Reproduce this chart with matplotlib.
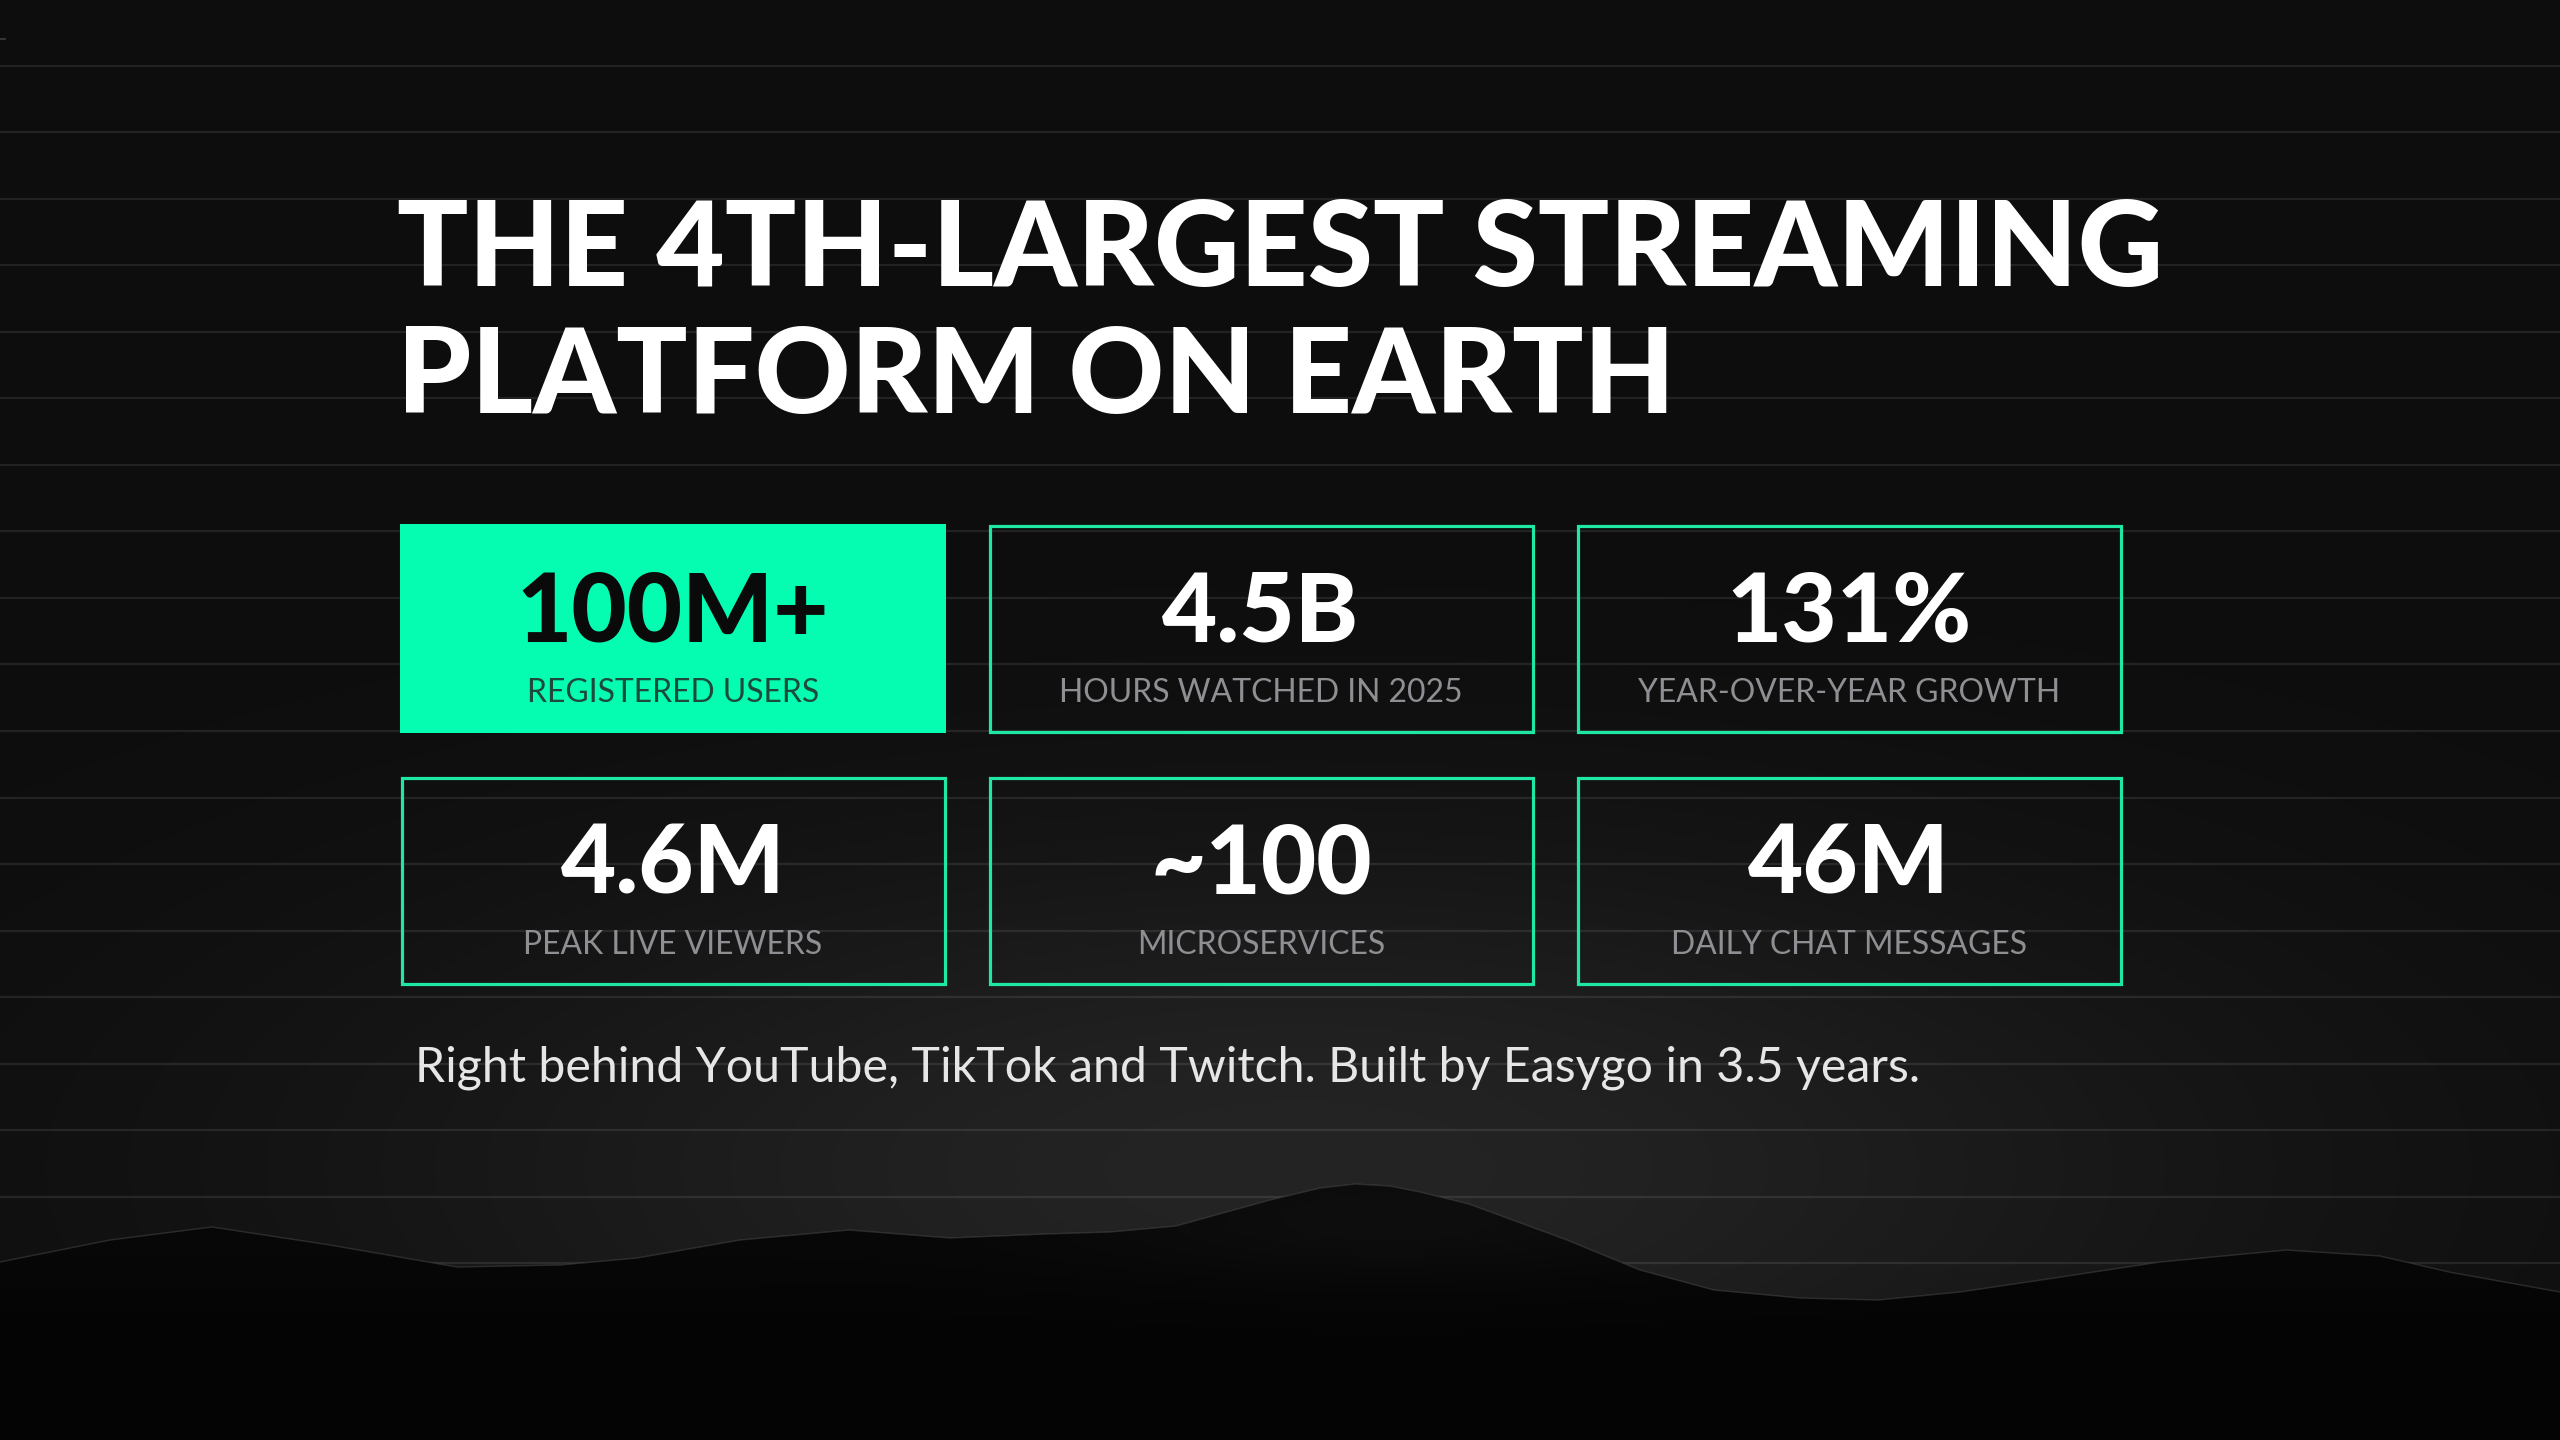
import numpy as np
import matplotlib
matplotlib.use("Agg")
import matplotlib.pyplot as plt
from matplotlib.patches import Rectangle, Polygon

W, H = 2560, 1440

title_lines = ["THE 4TH-LARGEST STREAMING", "PLATFORM ON EARTH"]
stat_values = ["100M+", "4.5B", "131%", "4.6M", "~100", "46M"]
stat_labels = ["REGISTERED USERS", "HOURS WATCHED IN 2025", "YEAR-OVER-YEAR GROWTH",
               "PEAK LIVE VIEWERS", "MICROSERVICES", "DAILY CHAT MESSAGES"]
highlighted = [True, False, False, False, False, False]
footnote = "Right behind YouTube, TikTok and Twitch. Built by Easygo in 3.5 years."

# outline of the dark hills along the bottom (x px, y px from the top)
ridge_x = [0, 110, 212, 330, 457, 560, 637, 740, 849, 950, 1045, 1110, 1176, 1270,
           1320, 1355, 1390, 1420, 1469, 1567, 1640, 1714, 1800, 1878, 1960, 2041,
           2160, 2286, 2380, 2449, 2560]
ridge_y = [1262, 1240, 1227, 1245, 1267, 1265, 1258, 1240, 1230, 1238, 1234, 1232,
           1226, 1200, 1188, 1184, 1186, 1192, 1204, 1240, 1270, 1290, 1298, 1300,
           1292, 1280, 1262, 1250, 1256, 1272, 1292]

GREEN = "#05FDB2"
EDGE = "#1FE8A6"
BG = "#0d0d0d"

fig = plt.figure(figsize=(W / 100, H / 100), dpi=100)
ax = fig.add_axes([0, 0, 1, 1])
ax.set_xlim(0, W)
ax.set_ylim(H, 0)
ax.axis("off")
fig.patch.set_facecolor(BG)
renderer = fig.canvas.get_renderer()

# background glow behind the hills
gx, gy = np.meshgrid(np.linspace(0, W, 640), np.linspace(0, H, 360))
glow = 0.051 + 0.09 * np.exp(-((gx - 1300) / 950) ** 2 - ((gy - 1170) / 330) ** 2)
glow = np.clip(glow, 0, 1)
ax.imshow(np.dstack([glow, glow, glow]), extent=[0, W, H, 0], zorder=0,
          interpolation="bilinear", aspect="auto")

# faint horizontal rules
for y in np.arange(65.5, H, 66.55):
    ax.axhline(y, color="white", alpha=0.09, lw=1.6, zorder=1)
ax.plot([0, 5], [39, 39], color="white", alpha=0.2, lw=1.2, zorder=1)

# hills: dark body, a little light caught on the big peak
hill = Polygon(np.column_stack([ridge_x + [W, 0], ridge_y + [H, H]]),
               closed=True, facecolor="#060606", edgecolor="none", zorder=2)
ax.add_patch(hill)
shade = 0.018 + 0.03 * np.exp(-((gy - 1205) / 70) ** 2 - ((gx - 1390) / 300) ** 2) \
    + 0.01 * np.exp(-((gy - 1245) / 50) ** 2)
shade = np.clip(shade, 0, 1)
im = ax.imshow(np.dstack([shade, shade, shade]), extent=[0, W, H, 0], zorder=2.5,
               interpolation="bilinear", aspect="auto")
im.set_clip_path(hill)
ax.plot(ridge_x, ridge_y, color="#555555", lw=1.0, alpha=0.45, zorder=3)


def fitted_size(text, width, **kw):
    t = ax.text(0, 0, text, fontsize=100, **kw)
    bb = t.get_window_extent(renderer=renderer)
    t.remove()
    return 100 * width / bb.width


title_font = dict(family=["Lato", "DejaVu Sans"], weight="black")
light_font = dict(family=["Lato", "DejaVu Sans"], weight="normal")

# title
ts = fitted_size(title_lines[0], 1766, **title_font)
for line, base in zip(title_lines, [286, 413]):
    ax.text(397, base, line, fontsize=ts, color="white", ha="left", va="baseline",
            zorder=5, **title_font)

# stat cards
col_left = [400, 988, 1576]
row_top = [524, 776]
card_w, card_h = 546, 209
ns = fitted_size(stat_values[0], 313, **title_font)
ls = fitted_size(stat_labels[0], 292, **light_font)
for i, (val, lab, hi) in enumerate(zip(stat_values, stat_labels, highlighted)):
    x0 = col_left[i % 3]
    y0 = row_top[i // 3]
    if hi:
        ax.add_patch(Rectangle((x0, y0), card_w, card_h, facecolor=GREEN,
                               edgecolor=GREEN, lw=0, zorder=4))
        vcol, lcol = "#0a0a0a", "#1d4a3b"
    else:
        ax.add_patch(Rectangle((x0 + 1.5, y0 + 1.5), card_w - 3, card_h - 3,
                               facecolor="none", edgecolor=EDGE, lw=2.3, zorder=4))
        vcol, lcol = "white", "#8e8e93"
    cx = x0 + card_w / 2
    ax.text(cx, y0 + 117, val, fontsize=ns, color=vcol, ha="center",
            va="baseline", zorder=5, **title_font)
    ax.text(cx, y0 + 178, lab, fontsize=ls, color=lcol, ha="center",
            va="baseline", zorder=5, **light_font)

# footnote
fs = fitted_size(footnote, 1505, **light_font)
ax.text(415, 1081, footnote, fontsize=fs, color="#e6e6e6", ha="left",
        va="baseline", zorder=5, **light_font)

fig.savefig("out.png", dpi=100, facecolor=BG)
